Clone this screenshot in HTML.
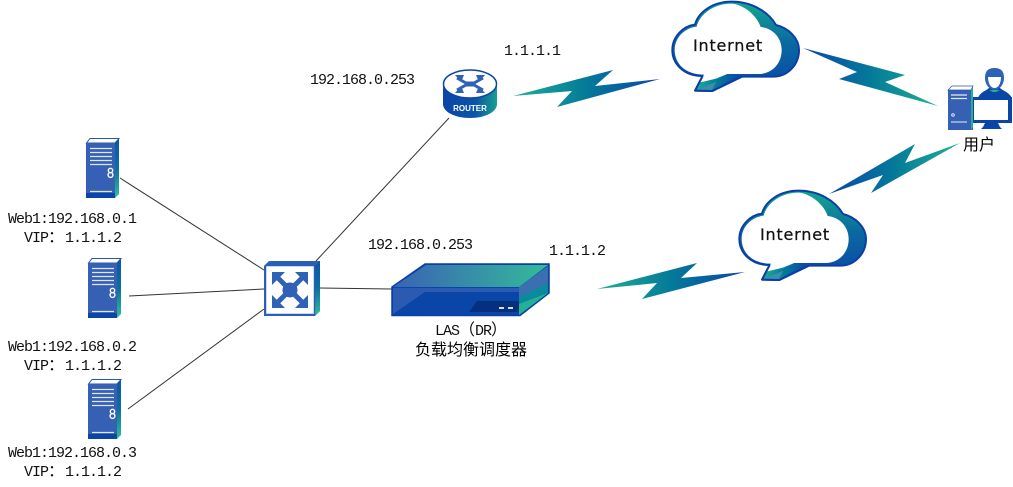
<!DOCTYPE html>
<html><head><meta charset="utf-8">
<style>
html,body{margin:0;padding:0;background:#fff}
svg{display:block}
text{font-family:"Liberation Mono","Noto Sans CJK SC",monospace;font-size:15px;letter-spacing:-1px;fill:#111}
.c{font-family:"Liberation Sans","Noto Sans CJK SC",sans-serif;font-size:16px;letter-spacing:0;fill:#000}
.f{font-family:"Noto Sans CJK SC",sans-serif;font-size:16px;letter-spacing:0}
.i{font-family:"DejaVu Sans","Liberation Sans",sans-serif;font-size:16px;fill:#111;letter-spacing:.8px;stroke:#111;stroke-width:.25px}
</style></head><body>
<svg width="1013" height="487" viewBox="0 0 1013 487" xmlns="http://www.w3.org/2000/svg">
<defs>
<linearGradient id="b1" x1="0" y1="0" x2="1" y2="0"><stop offset="0" stop-color="#1fb095"/><stop offset=".5" stop-color="#047a99"/><stop offset="1" stop-color="#0a45ad"/></linearGradient>
<linearGradient id="b2" x1="0" y1="0" x2="1" y2="0"><stop offset="0" stop-color="#0a45ad"/><stop offset=".5" stop-color="#047a99"/><stop offset="1" stop-color="#1fb095"/></linearGradient>
<linearGradient id="cl" x1="0" y1="0" x2="0" y2="1"><stop offset="0" stop-color="#14a890"/><stop offset=".45" stop-color="#0a6aa0"/><stop offset="1" stop-color="#0a45a8"/></linearGradient>
<linearGradient id="sd" x1="0" y1="0" x2="0" y2="1"><stop offset="0" stop-color="#0a55a8"/><stop offset=".5" stop-color="#0a70a0"/><stop offset="1" stop-color="#30c09a"/></linearGradient>
<linearGradient id="lt" x1="0" y1="0" x2="1" y2="0"><stop offset="0" stop-color="#3a62b4"/><stop offset="1" stop-color="#33bb9a"/></linearGradient>
<linearGradient id="ro" x1="0" y1="0" x2="1" y2="0"><stop offset="0" stop-color="#0a45a8"/><stop offset=".6" stop-color="#0a55a8"/><stop offset="1" stop-color="#18a090"/></linearGradient>
<g id="srv">
<path d="M0.5 5 L4 0.5 L33 0.5 L29 5Z" fill="#fff" stroke="#2a55ae" stroke-width="1"/>
<path d="M29 5 L33 1 L33 56 L29 60Z" fill="url(#sd)"/>
<rect x="0" y="5" width="29" height="55" fill="#3560b4"/>
<path d="M0 55 H29 V60 H0Z" fill="#0b45a5"/>
<g stroke="#dfe7f6" stroke-width="1.2"><path d="M4 10.500H26M4 14.500H26M4 18.500H26M4 22.500H26M4 26.500H26M4 53.500H26"/></g>
<circle cx="24.500" cy="32.500" r="2.200" fill="none" stroke="#fff" stroke-width="1.400"/>
<circle cx="24.500" cy="37" r="2.400" fill="none" stroke="#fff" stroke-width="1.400"/>
</g>
<g id="cloud">
<path d="M165 272 L188 228 C130 228 97 190 97 150 C97 110 130 78 165 74 C175 35 220 5 275 5 C335 5 385 35 408 75 C447 85 477 115 477 150 C477 195 442 230 400 230 L305 230 L217 273 Z" fill="url(#cl)" stroke="#0a3fa8" stroke-width="6" stroke-linejoin="round"/>
<path d="M168 266 L192 224 C135 224 104 190 104 150 C104 112 135 84 170 80 C180 42 222 11 275 11 C310 14 350 45 362 81 C400 85 425 115 425 150 C425 192 395 222 355 222 L262 222 L190 262Z" fill="#fff"/>
<path d="M165 270 L178 248 L228 236 L262 222 L300 226 L217 270Z" fill="url(#b1)"/>
<path d="M165 271 L215 271 L228 246Z" fill="#3a8fb0"/>
<path d="M165 272 L188 228" stroke="#0a3fa8" stroke-width="6" fill="none"/>
<path d="M165 272 L217 273 L305 230" stroke="#0a3fa8" stroke-width="6" fill="none" stroke-linejoin="round"/>
</g>
</defs>

<!-- connectors -->
<g stroke="#333" stroke-width="1" fill="none">
<line x1="120" y1="178" x2="264" y2="270"/>
<line x1="129" y1="296" x2="264" y2="289"/>
<line x1="128" y1="409" x2="264" y2="309"/>
<line x1="449" y1="118" x2="316" y2="261"/>
<line x1="320" y1="288" x2="392" y2="289"/>
</g>

<!-- servers -->
<use href="#srv" x="86" y="138"/>
<use href="#srv" x="88" y="258"/>
<use href="#srv" x="88" y="379"/>

<!-- switch -->
<g>
<path d="M264 266 L269 261 L320 261 L320 311 L315 316 L264 316Z" fill="#2a5fb8"/>
<path d="M315 266 L320 261 L320 311 L315 316Z" fill="url(#sd)"/>
<rect x="265.500" y="265.500" width="49" height="49" fill="#fff" stroke="#2a5fb8" stroke-width="1.500"/>
<circle cx="290" cy="290" r="7.500" fill="#2f62b6"/>
<g stroke="#2f62b6" stroke-width="5" fill="none"><path d="M276 276 L304 304M304 276 L276 304"/></g>
<g fill="#2f62b6"><path d="M272 272 H285 L272 285Z"/><path d="M308 272 H295 L308 285Z"/><path d="M272 308 H285 L272 295Z"/><path d="M308 308 H295 L308 295Z"/></g>
</g>

<!-- LAS device -->
<g>
<path d="M392 287 L425 264 L549 264 L549 293 L520 315.500 L392 315.500Z" fill="#0a45a8" stroke="#0a3fa8" stroke-width="1.500"/>
<path d="M393 287 L426 265 L548 265 L519 287Z" fill="url(#lt)"/>
<path d="M519 287 L548 266 L548 293 L519 315Z" fill="#0a8a9c"/>
<path d="M519 287 L548 266 L548 283 L519 297Z" fill="#3a6fb0"/>
<path d="M519 315 L548 293 L519 304Z" fill="#25b096"/>
<path d="M393 288 H519 V292 H425 L393 314Z" fill="#2a5ab2"/>
<path d="M469 312 L477 301 H519 V312Z" fill="#072f80"/>
<rect x="499" y="307" width="5" height="2" fill="#ddd"/><rect x="508" y="307" width="5" height="2" fill="#ddd"/>
</g>

<!-- router -->
<g>
<path d="M443 84 V104 C443 112 455 118 470 118 C485 118 497 112 497 104 V84Z" fill="url(#ro)"/>
<ellipse cx="470" cy="84" rx="26.500" ry="14" fill="#fff" stroke="#0a45a8" stroke-width="1.500"/>
<g fill="none" stroke="#2f62b6" stroke-width="3"><path d="M457 78 L466 83 L474 83 L483 78M457 90 L466 85 L474 85 L483 90"/></g>
<g fill="#2f62b6"><path d="M455 75 h9 l-3 7z"/><path d="M485 75 h-9 l3 7z"/><path d="M455 93 h9 l-3 -7z"/><path d="M485 93 h-9 l3 -7z"/></g>
<text x="470" y="111" text-anchor="middle" style="font-family:'Liberation Sans',sans-serif;font-size:8px;letter-spacing:0;font-weight:bold;fill:#fff">ROUTER</text>
</g>

<!-- clouds -->
<g transform="translate(640,0) scale(.33333)"><use href="#cloud"/></g>
<g transform="translate(707,189) scale(.33333)"><use href="#cloud"/></g>
<text class="i" x="693" y="51">Internet</text>
<text class="i" x="760" y="240">Internet</text>

<!-- bolts -->
<path d="M513 96 L613 70 L595 86 L660 79 L557 107 L572 91Z" fill="url(#b1)"/>
<path d="M803 48 L905 75 L885 82 L938 106 L839 79 L857 72Z" fill="url(#b2)"/>
<path d="M597 289 L697 263 L681 278 L745 272 L642 299 L657 283Z" fill="url(#b1)"/>
<path d="M829 194 L915 144 L905 163 L960 143 L871 193 L883 175Z" fill="url(#b2)"/>

<!-- user -->
<g>
<path d="M948 90 L952 86 L973 86 L973 130 L948 130Z" fill="#3560b4"/>
<path d="M948 90 L952 86 H973 L971 90Z" fill="#fff" stroke="#2a55ae" stroke-width=".7"/>
<path d="M971 90 L973 87 V127 L971 130Z" fill="#25b096"/>
<path d="M951 95H967M951 98.500H967" stroke="#e4ecf8" stroke-width="1.300"/>
<rect x="951" y="121" width="16" height="2" fill="#8fa8d8"/>
<circle cx="953" cy="115" r="1.300" fill="none" stroke="#dfe7f6"/>
<path d="M978 98 C980 92 986 91 989 88 L1000 88 C1003 91 1009 92 1012 98Z" fill="#0a45a8"/>
<path d="M985 78 C985 71 988 68 994.500 68 C1001 68 1004 71 1004 78 C1004 84 1000 90 994.500 90 C989 90 985 84 985 78Z" fill="#2f62b6"/>
<path d="M988 77 H1001 C1001 84 998 88 994.500 88 C991 88 988 84 988 77Z" fill="#fff"/>
<path d="M989 90 H1000 L996 92 H993Z" fill="#25b096"/>
<rect x="973" y="97" width="39" height="26" fill="#0a45a8"/>
<rect x="974" y="100" width="34" height="20" fill="#fff"/>
<path d="M985 123 H998 L1000 127 H983Z" fill="#0a45a8"/>
<path d="M981 129 H1002 L1000 127 H983Z" fill="#0a45a8"/>
</g>

<!-- labels -->
<text x="504" y="55">1.1.1.1</text>
<text x="310" y="84">192.168.0.253</text>
<text x="368" y="249">192.168.0.253</text>
<text x="549" y="255">1.1.1.2</text>
<text x="8" y="223">Web1:192.168.0.1</text>
<text x="24" y="242">VIP<tspan class="f">：</tspan><tspan x="65">1.1.1.2</tspan></text>
<text x="8" y="351">Web1:192.168.0.2</text>
<text x="24" y="370">VIP<tspan class="f">：</tspan><tspan x="65">1.1.1.2</tspan></text>
<text x="8" y="457">Web1:192.168.0.3</text>
<text x="24" y="476">VIP<tspan class="f">：</tspan><tspan x="65">1.1.1.2</tspan></text>
<text x="435" y="335">LAS<tspan class="f">（</tspan><tspan x="475">DR</tspan><tspan class="f" x="491">）</tspan></text>
<text class="c" x="415" y="355">负载均衡调度器</text>
<text class="c" x="963" y="150">用户</text>
</svg>
</body></html>
